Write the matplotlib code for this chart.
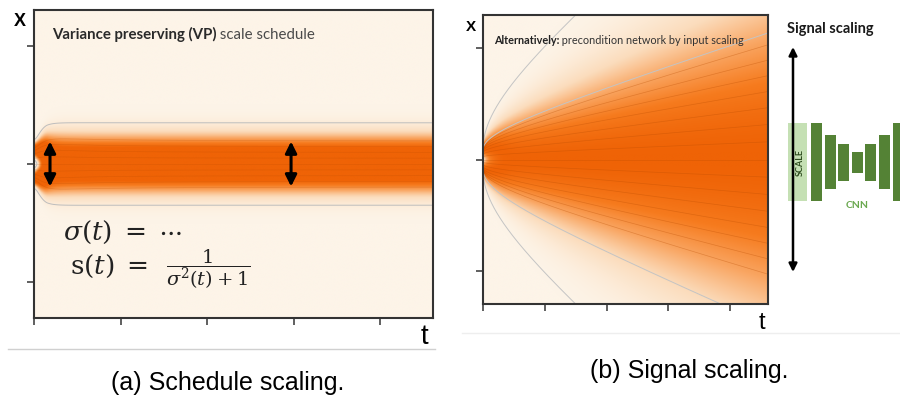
import numpy as np
import matplotlib
matplotlib.use("Agg")
import matplotlib.pyplot as plt
from matplotlib.colors import LinearSegmentedColormap

plt.rcParams["font.family"] = ["Liberation Sans", "DejaVu Sans"]
plt.rcParams["mathtext.fontset"] = "dejavuserif"

# axes marks (no tick labels in the original)
t_ticks = [0, 1, 2, 3, 4]
x_ticks = [-1, 0, 1]
t_max = 4.61
x_lim = 1.3

# toy data distribution: two narrow modes
modes = [-1.0, 1.0]
data_std = 0.25

# noise schedules: VP on the left, unscaled VE on the right
vp_rate = 6.0
ve_diffusion = 2.0
ve_drift = 0.863
vp_unit = 0.12
ve_unit = 0.10

# ODE trajectories drawn as thin lines (quantiles of the marginal)
band_q = [-1.6, -1.2, -0.8, -0.4, 0.0, 0.4, 0.8, 1.2, 1.6]
fan_q = [-1.89, -1.62, -1.35, -1.08, -0.81, -0.54, -0.27, 0.0,
         0.27, 0.54, 0.81, 1.08, 1.35, 1.62, 1.89]
edge_q = [-5.6, -2.8, 2.1, 5.6]

# double arrows in the left panel
arrow_t = [0.185, 2.97]
arrow_half = 0.19

# little CNN sketch (bar heights in px)
cnn_heights = [78, 54, 37, 21, 37, 54, 78]
scale_height = 78

cmap = LinearSegmentedColormap.from_list(
    "cream_orange", ["#fdf4e8", "#fbdcbc", "#f9a561", "#f67b1e", "#ef6306"])

t = np.linspace(0, t_max, 700)
y = np.linspace(-x_lim, x_lim, 500)[:, None]


def column_density(mean_scale, std):
    p = sum(np.exp(-0.5 * ((y - m * mean_scale) / std) ** 2) for m in modes)
    return p / p.max(axis=0, keepdims=True)


def to_color(v, gain, power):
    return np.clip(v / gain, 0, 1) ** power


def style_axes(ax):
    ax.set_xlim(0, t_max)
    ax.set_ylim(-x_lim, x_lim)
    ax.set_xticks(t_ticks)
    ax.set_yticks(x_ticks)
    ax.set_xticklabels([])
    ax.set_yticklabels([])
    ax.tick_params(direction="out", length=5, width=1.2, color="#444444")
    for sp in ax.spines.values():
        sp.set_color("#333333")
        sp.set_linewidth(1.5)


fig = plt.figure(figsize=(9, 3.98), dpi=100)

# (a) VP schedule
axl = fig.add_axes([34 / 900, 80 / 398, 399 / 900, 308 / 398])
sig = vp_rate * t
s = 1 / np.sqrt(1 + sig ** 2)
vl = column_density(vp_unit * s, vp_unit * s * np.sqrt(data_std ** 2 + sig ** 2))
axl.imshow(to_color(vl, 0.5, 0.7), cmap=cmap, vmin=0, vmax=1, origin="lower",
           aspect="auto", extent=[0, t_max, -x_lim, x_lim], interpolation="bilinear")
for q in band_q:
    yy = vp_unit * s * (0.8 * np.tanh(q) + q * np.sqrt(data_std ** 2 + sig ** 2))
    axl.plot(t, yy, color="#b84a00", lw=0.5, alpha=0.25)
axl.contour(t, y.ravel(), vl, levels=[0.015], colors="#bdbdbd", linewidths=0.7)
for ta in arrow_t:
    axl.annotate("", xy=(ta, arrow_half), xytext=(ta, -arrow_half),
                 arrowprops=dict(arrowstyle="<|-|>", lw=2.2, color="black",
                                 mutation_scale=17, shrinkA=0, shrinkB=0))
style_axes(axl)

# (b) no scaling, input preconditioning instead
axr = fig.add_axes([483 / 900, 94 / 398, 285 / 900, 289 / 398])
sig_r = np.sqrt(ve_diffusion * t + (ve_drift * t) ** 2)
vr = column_density(ve_unit, ve_unit * np.sqrt(data_std ** 2 + sig_r ** 2))
axr.imshow(to_color(vr, 1.0, 0.31), cmap=cmap, vmin=0, vmax=1, origin="lower",
           aspect="auto", extent=[0, t_max, -x_lim, x_lim], interpolation="bilinear")
for q in fan_q:
    axr.plot(t, ve_unit * (0.9 * np.tanh(q) + q * sig_r), color="#b84a00", lw=0.5, alpha=0.35)
for q in edge_q:
    axr.plot(t, ve_unit * (0.9 * np.tanh(q) + q * sig_r), color="#c4c4c4", lw=0.7)
style_axes(axr)

# overlay in pixel coordinates for the annotations
ov = fig.add_axes([0, 0, 1, 1])
ov.set_xlim(0, 900)
ov.set_ylim(398, 0)
ov.axis("off")

ov.text(20, 21, "X", fontsize=13, fontweight="bold", ha="center", va="center")
ov.text(471, 27, "X", fontsize=11, fontweight="bold", ha="center", va="center")
ov.text(424, 337, "t", fontsize=20, ha="center", va="center")
ov.text(762, 323, "t", fontsize=17, ha="center", va="center")
ov.plot([8, 435], [349, 349], color="#d0d0d0", lw=1)
ov.plot([462, 900], [333, 333], color="#eeeeee", lw=1)

ov.text(228, 383, "(a) Schedule scaling.", fontsize=18, ha="center", va="center")
ov.text(689, 371, "(b) Signal scaling.", fontsize=18, ha="center", va="center")

t1 = ov.text(52, 34, "Variance preserving (VP)", family="Lato", fontweight="bold",
             fontsize=10.8, color="#2a2a2a", va="center")
ov.annotate(" scale schedule", xy=(1, 0), xycoords=t1, family="Lato", fontsize=10.8,
            color="#4a4a4a", va="bottom", ha="left")
t2 = ov.text(494, 40, "Alternatively:", family="Lato", fontweight="bold",
             fontsize=7.8, color="#222222", va="center")
ov.annotate(" precondition network by input scaling", xy=(1, 0), xycoords=t2,
            family="Lato", fontsize=7.8, color="#333333", va="bottom", ha="left")

ov.text(63, 232, r"$\sigma(t)\;=\;\cdots$", fontsize=19, color="#222222", va="center")
ov.text(70, 266, r"$\mathrm{s}(t)\;=$", fontsize=19, color="#222222", va="center")
ov.text(166, 269, r"$\dfrac{1}{\sigma^2(t)+1}$", fontsize=14, color="#222222",
        va="center")

# signal scaling sketch
ov.text(787, 29, "Signal scaling", family="Lato", fontweight="bold", fontsize=10.5,
        color="#1a1a1a", va="center")
ov.bar(797.5, scale_height, width=19, bottom=162 - scale_height / 2, color="#c5e0b4")
centers = 816.5 + 13.6 * np.arange(len(cnn_heights))
hs = np.array(cnn_heights)
ov.bar(centers, hs, width=11, bottom=162 - hs / 2, color="#548235")
ov.annotate("", xy=(793, 47), xytext=(793, 272),
            arrowprops=dict(arrowstyle="<|-|>", lw=1.8, color="black",
                            mutation_scale=12, shrinkA=0, shrinkB=0))
ov.text(800, 162, "SCALE", rotation=90, family="Lato", fontweight="bold", fontsize=6.5,
        color="#2e4d1f", ha="center", va="center")
ov.text(857, 206, "CNN", family="Lato", fontweight="bold", fontsize=7.5,
        color="#6aa84f", ha="center", va="center")

fig.savefig("out.png", dpi=100)
